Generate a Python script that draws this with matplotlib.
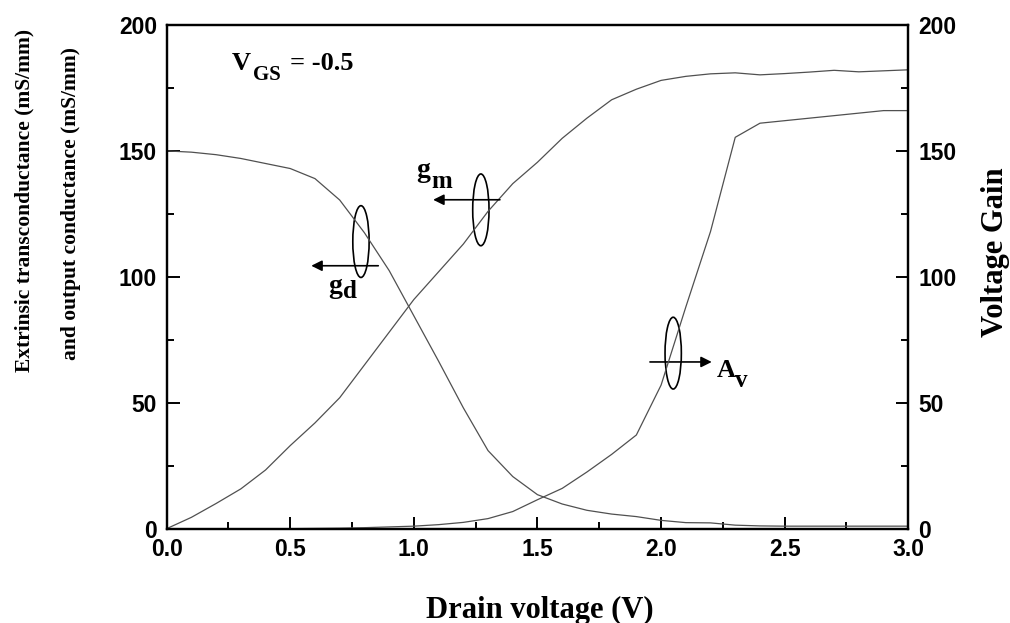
import matplotlib
matplotlib.use("Agg")
import matplotlib.pyplot as plt
from matplotlib.patches import Ellipse
from matplotlib.ticker import MultipleLocator

# drain voltage (V)
vd = [0.0, 0.1, 0.2, 0.3, 0.4, 0.5, 0.6, 0.7, 0.8, 0.9, 1.0,
      1.1, 1.2, 1.3, 1.4, 1.5, 1.6, 1.7, 1.8, 1.9, 2.0,
      2.1, 2.2, 2.3, 2.4, 2.5, 2.6, 2.7, 2.8, 2.9, 3.0]
# extrinsic transconductance gm (mS/mm)
gm = [0.0, 4.5, 10.0, 15.8, 23.3, 33.0, 42.0, 52.0, 65.0, 78.0, 91.0,
      102.0, 113.0, 126.0, 137.0, 145.5, 155.0, 163.0, 170.3, 174.5, 178.0,
      179.6, 180.6, 181.0, 180.2, 180.7, 181.3, 182.0, 181.4, 181.8, 182.2]
# output conductance gd (mS/mm)
gd = [150.0, 149.5, 148.5, 147.0, 145.0, 143.0, 139.0, 130.5, 117.5, 102.5, 84.5,
      66.5, 48.0, 31.0, 20.7, 13.5, 9.8, 7.3, 5.8, 4.8, 3.3,
      2.4, 2.3, 1.4, 1.1, 1.0, 1.0, 1.0, 1.0, 1.0, 1.0]
# voltage gain Av
vd_av = [0.5, 0.6, 0.7, 0.8, 0.9, 1.0, 1.1, 1.2, 1.3, 1.4, 1.5,
         1.6, 1.7, 1.8, 1.9, 2.0, 2.1, 2.2, 2.3, 2.4, 2.5,
         2.6, 2.7, 2.8, 2.9, 3.0]
av = [0.0, 0.1, 0.2, 0.4, 0.7, 1.0, 1.6, 2.5, 4.0, 6.8, 11.5,
      16.0, 22.5, 29.5, 37.2, 57.0, 88.0, 118.0, 155.4, 161.0, 162.0,
      163.0, 164.0, 165.0, 166.0, 166.0]

line_col = "#505050"
serif = "Liberation Serif"
sans = "Liberation Sans"

fig = plt.figure(figsize=(10.10, 6.23), dpi=100)
ax = fig.add_axes([0.165, 0.1514, 0.7343, 0.8085])
ax2 = ax.twinx()

ax.plot(vd, gm, color=line_col, lw=0.9)
ax.plot(vd, gd, color=line_col, lw=0.9)
ax2.plot(vd_av, av, color=line_col, lw=0.9)

for a in (ax, ax2):
    a.set_xlim(0, 3.0)
    a.set_ylim(0, 200)
    a.yaxis.set_major_locator(MultipleLocator(50))
    a.yaxis.set_minor_locator(MultipleLocator(25))
    for s in a.spines.values():
        s.set_linewidth(1.6)

ax.xaxis.set_major_locator(MultipleLocator(0.5))
ax.xaxis.set_minor_locator(MultipleLocator(0.25))
ax.tick_params(which="both", direction="in", width=1.4, top=False)
ax.tick_params(which="major", length=9, pad=7)
ax.tick_params(which="minor", length=5)
ax2.tick_params(which="both", direction="in", width=1.4)
ax2.tick_params(which="major", length=9, pad=7)
ax2.tick_params(which="minor", length=5)

ax.xaxis.set_major_formatter(plt.FuncFormatter(lambda v, p: f"{v:.1f}"))
for a in (ax, ax2):
    for lab in a.get_xticklabels() + a.get_yticklabels():
        lab.set_fontfamily(sans)
        lab.set_fontweight("bold")
        lab.set_fontsize(16.5)

fig.text(540 / 1010, 5 / 623, "Drain voltage (V)", ha="center", va="baseline",
         fontfamily=serif, fontweight="bold", fontsize=22)

fig.text(24 / 1010, 1 - 200 / 623, "Extrinsic transconductance (mS/mm)",
         rotation=90, ha="center", va="center", fontfamily=serif,
         fontweight="bold", fontsize=15.5)
fig.text(71 / 1010, 1 - 203 / 623, "and output conductance (mS/mm)",
         rotation=90, ha="center", va="center", fontfamily=serif,
         fontweight="bold", fontsize=15.5)
fig.text(996 / 1010, 1 - 252 / 623, "Voltage Gain", rotation=90,
         ha="center", va="center", fontfamily=serif, fontweight="bold",
         fontsize=22)


def sub_label(x, y, main, sub, xs, ys, size, subsize):
    ax.text(x, y, main, fontfamily=serif, fontweight="bold", fontsize=size,
            ha="left", va="baseline")
    ax.text(xs, ys, sub, fontfamily=serif, fontweight="bold", fontsize=subsize,
            ha="left", va="baseline")


# VGS label
sub_label(0.264, 182.2, "V", "GS", 0.349, 178.2, 19, 15)
ax.text(0.499, 182.2, "= -0.5", fontfamily=serif, fontweight="bold",
        fontsize=19, ha="left", va="baseline")

# ellipses and arrows
arrow = dict(arrowstyle="-|>", color="black", lw=1.2,
             mutation_scale=16, shrinkA=0, shrinkB=0)
for cx, cy in [(0.786, 114.0), (1.271, 126.6), (2.049, 69.7)]:
    ax.add_patch(Ellipse((cx, cy), 0.066, 28.5, fill=False,
                         edgecolor="black", lw=1.2))
ax.annotate("", xy=(0.585, 104.4), xytext=(0.856, 104.4), arrowprops=arrow)
ax.annotate("", xy=(1.078, 130.6), xytext=(1.348, 130.6), arrowprops=arrow)
ax.annotate("", xy=(2.205, 66.2), xytext=(1.955, 66.2), arrowprops=arrow)

sub_label(0.6525, 93.6, "g", "d", 0.713, 91.5, 20, 18)
sub_label(1.011, 139.8, "g", "m", 1.072, 135.2, 20, 18)
sub_label(2.225, 60.1, "A", "v", 2.299, 56.4, 19, 18)

fig.savefig("out.png", dpi=100)
